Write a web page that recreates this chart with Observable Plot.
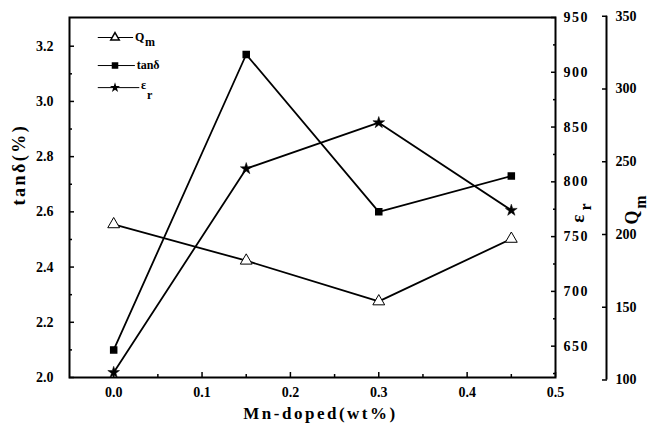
<!DOCTYPE html>
<html><head><meta charset="utf-8">
<script src="https://cdn.jsdelivr.net/npm/d3@7"></script>
<script src="https://cdn.jsdelivr.net/npm/@observablehq/plot@0.6"></script>
<style>body{margin:0;background:#fff}</style>
</head><body><div id="chart"></div>
<script>
// ---- data ----
const mnDoped   = [0, 0.15, 0.30, 0.45];
const tanDelta  = [2.10, 3.17, 2.60, 2.73];
const epsilonR  = [626, 812, 854, 774];
const qmValues  = [207, 182, 154, 197];

const xTicks     = [0, 0.1, 0.2, 0.3, 0.4, 0.5];
const xMinor     = [0.05, 0.15, 0.25, 0.35, 0.45];
const tanTicks   = [2.0, 2.2, 2.4, 2.6, 2.8, 3.0, 3.2];
const tanMinor   = [2.1, 2.3, 2.5, 2.7, 2.9, 3.1];
const epsTicks   = [650, 700, 750, 800, 850, 900, 950];
const epsMinor   = [625, 675, 725, 775, 825, 875, 925];
const qmTicks    = [100, 150, 200, 250, 300, 350];

// secondary axes mapped onto the tanδ scale
const eps2t = d3.scaleLinear().domain([621.4, 950]).range([2.0, 3.304]);
const qm2t  = d3.scaleLinear().domain([100, 350]).range([1.991, 3.3085]);

const rows = mnDoped.map((x, i) => ({x, tan: tanDelta[i], eps: eps2t(epsilonR[i]), qm: qm2t(qmValues[i])}));

// legend (data units)
const legend = [
  {y: 3.2315, x1: -0.018, x2: 0.022, mx: 0.0015, sym: "triangle", fill: "white", r: 3.2},
  {y: 3.130,  x1: -0.018, x2: 0.024, mx: 0.0015, sym: "square",   fill: "black", r: 2.6},
  {y: 3.050,  x1: -0.018, x2: 0.029, mx: 0.0015, sym: "star",     fill: "black", r: 3.2}
];
const legendText = [
  {x: 0.024, y: 3.2315, t: "Q", dx: 0, dy: 0, size: 12},
  {x: 0.024, y: 3.2315, t: "m", dx: 10, dy: 5, size: 12},
  {x: 0.026, y: 3.130,  t: "tanδ", dx: 0, dy: 0, size: 12},
  {x: 0.031, y: 3.050,  t: "ε", dx: 0, dy: -2, size: 12},
  {x: 0.031, y: 3.050,  t: "r", dx: 6, dy: 8, size: 12}
];

const font = "'Liberation Serif', 'Times New Roman', serif";
const tf = {fontSize: 14, fontWeight: "bold", fontFamily: font};

const chart = Plot.plot({
  width: 662, height: 433,
  marginLeft: 69, marginRight: 107, marginTop: 17, marginBottom: 56,
  style: {fontFamily: font, fontWeight: "bold", background: "white", color: "black"},
  x: {domain: [-0.05, 0.5], axis: null},
  y: {domain: [2.0, 3.304], axis: null},
  marks: [
    Plot.frame({strokeWidth: 2}),
    // x axis
    Plot.axisX({ticks: xTicks, tickSize: -5, tickPadding: 15, tickFormat: d3.format(".1f"), strokeWidth: 1.5, ...tf, label: null}),
    Plot.axisX({ticks: xMinor, tickSize: -3, tickFormat: () => "", strokeWidth: 1.5, label: null}),
    // left axis
    Plot.axisY({ticks: tanTicks, tickSize: -5, tickPadding: 21, tickFormat: d3.format(".1f"), strokeWidth: 1.5, ...tf, label: null}),
    Plot.axisY({ticks: tanMinor, tickSize: -3, tickFormat: () => "", strokeWidth: 1.5, label: null}),
    // εr axis (right, inner)
    Plot.axisY({anchor: "right", ticks: epsTicks.map(eps2t), tickSize: -5, tickPadding: 13,
      tickFormat: d => String(Math.round(eps2t.invert(d))), strokeWidth: 1.5, ...tf, label: null}),
    Plot.axisY({anchor: "right", ticks: epsMinor.map(eps2t), tickSize: -3, tickFormat: () => "", strokeWidth: 1.5, label: null}),
    // Qm axis (right, outer)
    Plot.ruleX([0.5], {dx: 51, y1: qm2t(100), y2: qm2t(350), strokeWidth: 2}),
    Plot.axisY({anchor: "right", dx: 51, ticks: qmTicks.map(qm2t), tickSize: -5, tickPadding: 14,
      tickFormat: d => String(Math.round(qm2t.invert(d))), strokeWidth: 1.5, ...tf, label: null}),
    // series
    Plot.line(rows, {x: "x", y: "tan", stroke: "black", strokeWidth: 1.8}),
    Plot.line(rows, {x: "x", y: "eps", stroke: "black", strokeWidth: 1.8}),
    Plot.line(rows, {x: "x", y: "qm", stroke: "black", strokeWidth: 1.8}),
    Plot.dot(rows, {x: "x", y: "qm", symbol: "triangle", r: 4.4, fill: "white", stroke: "black", strokeWidth: 1}),
    Plot.dot(rows, {x: "x", y: "tan", symbol: "square", r: 3.4, fill: "black", stroke: "black"}),
    Plot.dot(rows, {x: "x", y: "eps", symbol: "star", r: 3.7, fill: "black", stroke: "black", strokeWidth: 0.5}),
    // legend
    Plot.link(legend, {x1: "x1", x2: "x2", y1: "y", y2: "y", stroke: "black", strokeWidth: 1}),
    Plot.dot(legend, {x: "mx", y: "y", symbol: "sym", fill: "fill", r: "r", stroke: d => d.sym === "star" ? "none" : "black"}),
    ...legendText.map(d => Plot.text([d], {x: "x", y: "y", text: "t", dx: d.dx, dy: d.dy, textAnchor: "start",
      fontSize: d.size, fontWeight: "bold", fontFamily: font})),
    // axis titles
    Plot.text(["Mn-doped(wt%)"], {frameAnchor: "bottom", dx: 8, dy: 41, fontSize: 17, fontWeight: "bold", fontFamily: font}),
    Plot.text(["tanδ(%)"], {frameAnchor: "left", dx: -50, dy: 8, rotate: -90, fontSize: 18, fontWeight: "bold", fontFamily: font}),
    Plot.text(["ε"], {frameAnchor: "right", dx: 22, dy: 17, rotate: -90, fontSize: 19, fontWeight: "bold", fontFamily: font}),
    Plot.text(["r"], {frameAnchor: "right", dx: 30, dy: 6, rotate: -90, fontSize: 16, fontWeight: "bold", fontFamily: font}),
    Plot.text(["Q"], {frameAnchor: "right", dx: 77, dy: 13, rotate: -90, fontSize: 18, fontWeight: "bold", fontFamily: font}),
    Plot.text(["m"], {frameAnchor: "right", dx: 85, dy: -2, rotate: -90, fontSize: 16, fontWeight: "bold", fontFamily: font})
  ]
});
// letter spacing for a few labels (styling only)
const spacing = {"Mn-doped(wt%)": "2.5px", "tanδ(%)": "2.5px"};
d3.select(chart).selectAll("text").each(function () {
  const t = this.textContent;
  if (spacing[t]) this.style.letterSpacing = spacing[t];
  else if (/^(650|700|750|800|850|900|950)$/.test(t)) this.style.letterSpacing = "1.5px";
});
document.getElementById("chart").append(chart);
</script>
</body></html>
